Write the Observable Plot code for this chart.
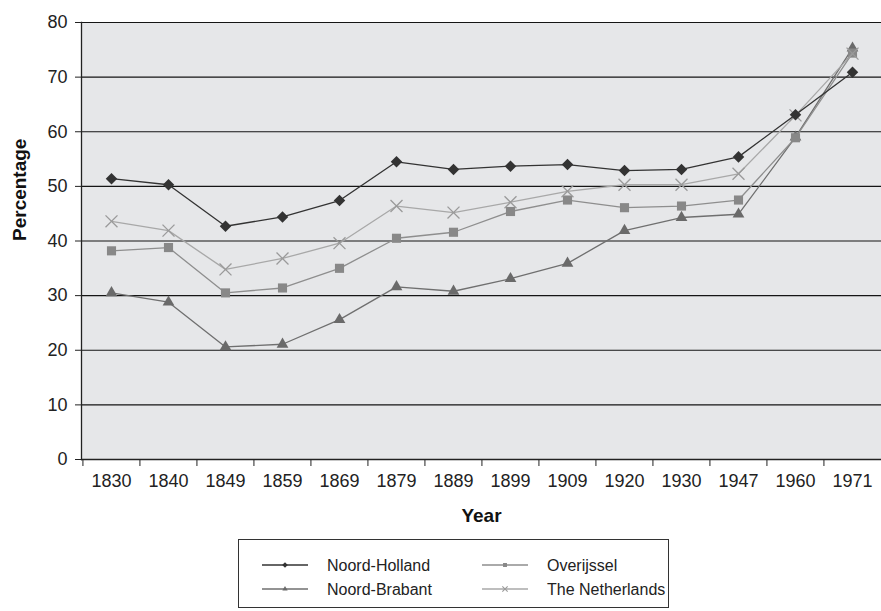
<!DOCTYPE html>
<html><head><meta charset="utf-8">
<script src="https://cdn.jsdelivr.net/npm/d3@7"></script>
<script src="https://cdn.jsdelivr.net/npm/@observablehq/plot@0.6"></script>
<style>
body{margin:0;background:#fff;font-family:"Liberation Sans",Arial,sans-serif;overflow:hidden;}
#legend svg, #chart svg{display:block;}
</style>
</head><body><div id="chart"></div><div id="legend"></div>
<script>
const years = ["1830","1840","1849","1859","1869","1879","1889","1899","1909","1920","1930","1947","1960","1971"];
const noordHolland  = [51.4, 50.3, 42.7, 44.4, 47.4, 54.5, 53.1, 53.7, 54.0, 52.9, 53.1, 55.4, 63.1, 70.9];
const overijssel    = [38.2, 38.8, 30.5, 31.4, 35.0, 40.5, 41.6, 45.4, 47.5, 46.1, 46.4, 47.5, 58.9, 74.4];
const noordBrabant  = [30.5, 28.8, 20.6, 21.1, 25.6, 31.6, 30.8, 33.1, 35.9, 41.9, 44.3, 44.9, 59.0, 75.3];
const netherlands   = [43.6, 41.9, 34.8, 36.8, 39.6, 46.4, 45.2, 47.1, 49.1, 50.3, 50.3, 52.3, 63.0, 74.3];
const seriesNames = ["Noord-Holland","Overijssel","Noord-Brabant","The Netherlands"];
const yTicks = [0,10,20,30,40,50,60,70,80];

const styles = {
  "Noord-Holland":   {values: noordHolland, line:"#333333", symbol:"diamond2", fill:"#333333", r:5.2},
  "Overijssel":      {values: overijssel,   line:"#8e8e8e", symbol:"square2",  fill:"#888888", r:5.8},
  "Noord-Brabant":   {values: noordBrabant, line:"#6f6f6f", symbol:"triangle2",fill:"#6a6a6a", r:5.6},
  "The Netherlands": {values: netherlands,  line:"#a8a8a8", symbol:"times",    stroke:"#9a9a9a", r:5.5}
};
const drawOrder = ["Noord-Brabant","Overijssel","The Netherlands","Noord-Holland"];

const W=881, H=530, ML=81, MR=0, MT=22, MB=71;
const step = (W-ML-MR)/years.length;

const marks = [
  Plot.frame({fill:"#e6e7e9", stroke:null}),
  Plot.gridY(yTicks.filter(t=>t>0), {stroke:"#151515", strokeOpacity:1, strokeWidth:1.2}),
  Plot.axisY({ticks: yTicks, tickSize: 6, tickPadding: 8, fontSize: 18, label: null, stroke:"#222"}),
  Plot.axisX({tickSize: 7, tickFormat: () => "", dx: -step/2, label: null, stroke:"#222"}),
  Plot.axisX({tickSize: 0, tickPadding: 15, fontSize: 18, label: null}),
  Plot.ruleY([0], {stroke:"#222", strokeWidth:1.3}),
  Plot.frame({anchor:"left", stroke:"#222", strokeWidth:1.3}),
  Plot.text(["Year"], {frameAnchor:"bottom", dy: 62, fontSize: 19, fontWeight:"bold", fill:"#111"}),
  Plot.text(["Percentage"], {frameAnchor:"left", dx: -62, rotate: -90, fontSize: 19, fontWeight:"bold", fill:"#111"})
];
for (const name of drawOrder) {
  const s = styles[name];
  const rows = years.map((y,i)=>({year:y, value:s.values[i]}));
  marks.push(Plot.line(rows, {x:"year", y:"value", stroke:s.line, strokeWidth:1.3}));
  if (s.symbol === "times") {
    marks.push(Plot.dot(rows, {x:"year", y:"value", symbol:"times", r:s.r, stroke:s.stroke, strokeWidth:1.3}));
  } else {
    marks.push(Plot.dot(rows, {x:"year", y:"value", symbol:s.symbol, r:s.r, fill:s.fill, stroke:"none"}));
  }
}

const chart = Plot.plot({
  width: W, height: H,
  marginLeft: ML, marginRight: MR, marginTop: MT, marginBottom: MB,
  style: {fontFamily: '"Liberation Sans", Arial, sans-serif', color:"#222", background:"#fff"},
  x: {type:"point", domain: years, padding: 0.5},
  y: {domain:[0,80]},
  marks
});
document.getElementById("chart").appendChild(chart);

// legend
const lg = d3.select("#legend").append("svg").attr("width", W).attr("height", 81)
  .style("font-family", '"Liberation Sans", Arial, sans-serif');
lg.append("rect").attr("x", 238.5).attr("y", 9.5).attr("width", 430).attr("height", 68)
  .attr("fill","none").attr("stroke","#333").attr("stroke-width",1);
const cols = [[262, 308, 327], [482, 528, 547]];
const rowsY = [35, 59];
const legendPos = {"Noord-Holland":[0,0], "Overijssel":[1,0], "Noord-Brabant":[0,1], "The Netherlands":[1,1]};
const symMap = {diamond2: d3.symbolDiamond2, square2: d3.symbolSquare2, triangle2: d3.symbolTriangle2, times: d3.symbolTimes};
for (const name of seriesNames) {
  const s = styles[name];
  const [c, r] = legendPos[name];
  const [x1, x2, tx] = cols[c];
  const y = rowsY[r];
  lg.append("line").attr("x1", x1).attr("x2", x2).attr("y1", y).attr("y2", y)
    .attr("stroke", s.line).attr("stroke-width", 1.3);
  const path = d3.symbol(symMap[s.symbol], 20)();
  const g = lg.append("path").attr("d", path).attr("transform", `translate(${(x1+x2)/2},${y})`);
  if (s.symbol === "times") g.attr("fill","none").attr("stroke", s.stroke).attr("stroke-width",1.1);
  else g.attr("fill", s.fill);
  lg.append("text").attr("x", tx).attr("y", y).attr("dy","0.35em").attr("font-size",16)
    .attr("fill","#222").text(name);
}
</script>
</body></html>
